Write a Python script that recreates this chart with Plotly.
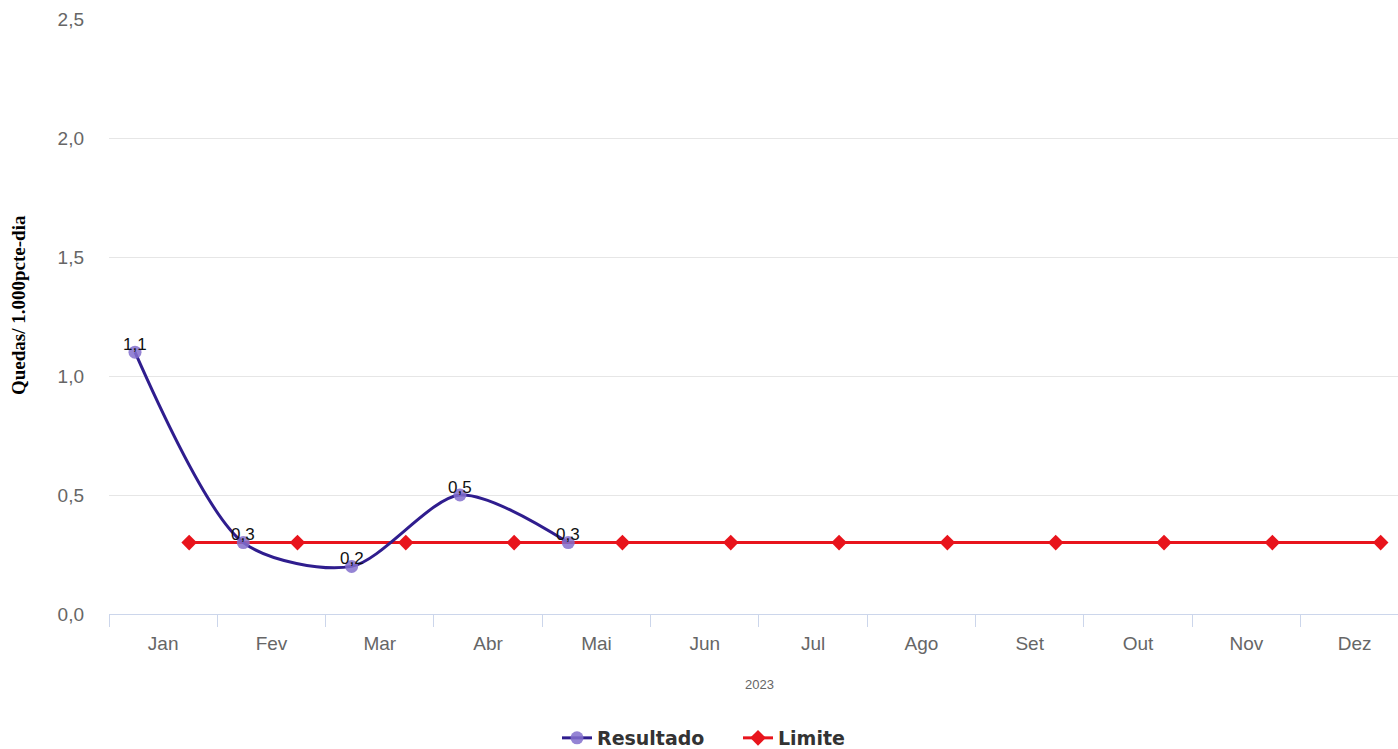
import plotly.graph_objects as go

months = ["Jan", "Fev", "Mar", "Abr", "Mai", "Jun", "Jul", "Ago", "Set", "Out", "Nov", "Dez"]
resultado = [1.1, 0.3, 0.2, 0.5, 0.3]
limite = [0.3] * 12
year_label = "2023"
y_title = "Quedas/ 1.000pcte-dia"
y_ticks = [0, 0.5, 1.0, 1.5, 2.0, 2.5]

res_off = -0.26
lim_off = 0.24
x_res = [i + res_off for i in range(len(resultado))]
x_lim = [i + lim_off for i in range(len(limite))]

PL, PT, PB = 109, 19, 614
PW, PH = 1398 - PL, PB - PT

fig = go.Figure()
fig.add_trace(go.Scatter(
    x=x_lim, y=limite, name="Limite", mode="lines+markers",
    line=dict(color="#e8141c", width=3),
    marker=dict(symbol="diamond", size=12, color="#e8141c"),
))
fig.add_trace(go.Scatter(
    x=x_res, y=resultado, name="Resultado", mode="lines+markers",
    line=dict(color="#2f1d8e", width=3, shape="spline", smoothing=0.8),
    marker=dict(symbol="circle", size=13, color="rgba(130,110,205,0.85)"),
))
for xv, yv in zip(x_res, resultado):
    fig.add_annotation(x=xv, y=yv, text=f"{yv:.1f}".replace(".", ","), showarrow=False,
                       yshift=8, font=dict(family="Liberation Sans, Arial", size=17, color="#111"))

# boundary tick marks via overlay axis
fig.add_trace(go.Scatter(x=[-0.5], y=[None], xaxis="x2", showlegend=False, hoverinfo="skip"))

fig.add_annotation(xref="paper", yref="paper", text=year_label, showarrow=False,
                   y=(PB - 684) / PH, yanchor="middle",
                   x=(759 - PL) / PW, xanchor="center",
                   font=dict(family="Liberation Sans, Arial", size=13, color="#666666"))
fig.add_annotation(xref="paper", yref="paper", text=y_title, showarrow=False, textangle=-90,
                   x=(18 - PL) / PW, xanchor="center",
                   y=(PB - 305) / PH, yanchor="middle",
                   font=dict(family="Liberation Serif, Times New Roman", size=19,
                             color="#000000", weight="bold"))

fig.update_layout(
    width=1398, height=749,
    margin=dict(l=PL, r=0, t=PT, b=749 - PB, autoexpand=False),
    paper_bgcolor="white", plot_bgcolor="white",
    separators=",.",
    showlegend=True,
    legend=dict(orientation="h", x=(557 - PL) / PW, xanchor="left",
                y=(PB - 738) / PH, yanchor="middle", traceorder="reversed",
                itemwidth=30, entrywidth=136, entrywidthmode="pixels",
                font=dict(family="DejaVu Sans", size=19, color="#333333", weight="bold")),
    xaxis=dict(range=[-0.5, 11.4], tickvals=list(range(12)), ticktext=months, automargin=False,
               showgrid=False, zeroline=False, showline=True, linecolor="#ccd6eb", linewidth=1,
               ticks="", tickfont=dict(family="Liberation Sans, Arial", size=19, color="#666666"),
               ticklabelstandoff=12),
    xaxis2=dict(range=[-0.5, 11.4], overlaying="x", side="bottom", matches="x", automargin=False,
                tickvals=[i - 0.5 for i in range(13)], ticks="outside", ticklen=12,
                tickcolor="#ccd6eb", showticklabels=False, showgrid=False, zeroline=False,
                showline=False),
    yaxis=dict(range=[0, 2.5], tickvals=y_ticks, tickformat=".1f", automargin=False,
               showgrid=True, gridcolor="#e6e6e6", gridwidth=1, zeroline=False,
               tickfont=dict(family="Liberation Sans, Arial", size=19, color="#666666"),
               ticklabelstandoff=24),
)

fig.write_html("out.html")
